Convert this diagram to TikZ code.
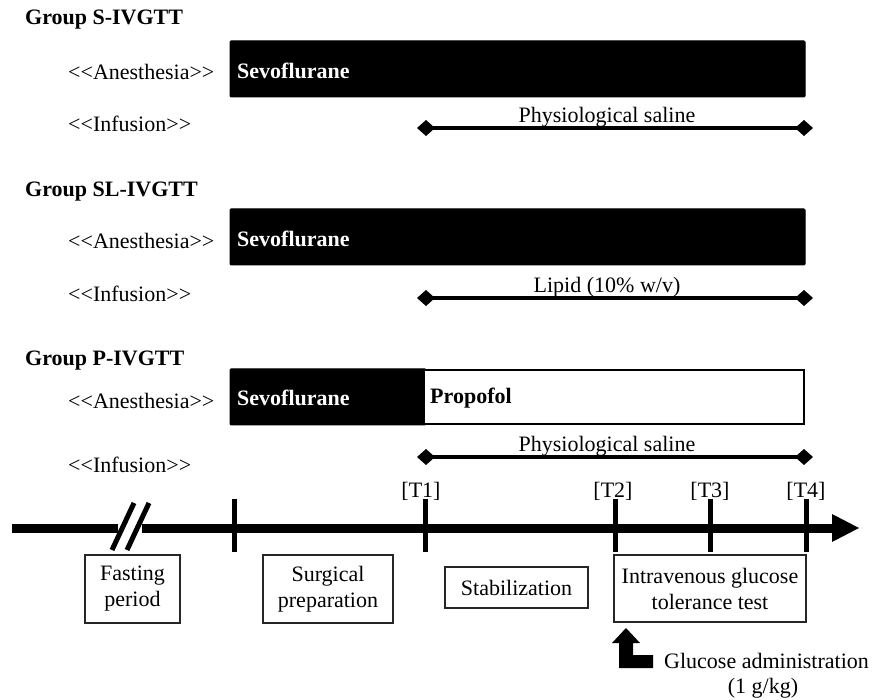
\documentclass[tikz,border=0pt]{standalone}
\usepackage{fontspec}
\setmainfont{Liberation Serif}[Ligatures=NoCommon]
\usetikzlibrary{arrows.meta}
\newcommand{\ltlt}{{<}{<}}
\newcommand{\gtgt}{{>}{>}}
\begin{document}
\begin{tikzpicture}[x=1pt,y=-1pt,
  every node/.style={font=\fontsize{22}{26}\selectfont, inner sep=0pt},
  grp/.style={anchor=west, font=\fontsize{22}{26}\selectfont\bfseries},
  lbl/.style={anchor=west},
  drug/.style={anchor=west, font=\fontsize{22}{26}\selectfont\bfseries},
  bar/.style={fill=black, draw=black, line width=1pt, rounded corners=1pt},
  inf/.style={line width=4pt, {Diamond[length=18pt,width=16pt]}-{Diamond[length=18pt,width=16pt]}},
  axis/.style={line width=9pt},
  tick/.style={line width=5pt},
  phase/.style={draw=black!85, line width=1.6pt, align=center},
  tlab/.style={anchor=south}
]
\useasboundingbox (0,0) rectangle (873,700);

% ---------- Group S ----------
\node[grp] (gS) at (25,20) {Group S-IVGTT};
\node[lbl] (aS) at (68,72) {\ltlt Anesthesia\gtgt};
\node[lbl] (iS) at (68,124) {\ltlt Infusion\gtgt};
\draw[bar] (230,41) rectangle (805,97);
\node[drug, text=white] (sS) at (237,71) {Sevoflurane};
\coordinate (s1) at (417,128);
\coordinate (e1) at (813,128);
\draw[inf] (s1) -- (e1);
\node[anchor=base] (pS) at (607,123) {Physiological saline};

% ---------- Group SL ----------
\node[grp] (gSL) at (25,192) {Group SL-IVGTT};
\node[lbl] (aSL) at (68,241) {\ltlt Anesthesia\gtgt};
\node[lbl] (iSL) at (68,294) {\ltlt Infusion\gtgt};
\draw[bar] (230,209) rectangle (805,265);
\node[drug, text=white] (sSL) at (237,239) {Sevoflurane};
\coordinate (s2) at (417,298);
\coordinate (e2) at (813,298);
\draw[inf] (s2) -- (e2);
\node[anchor=base] (pSL) at (607,293) {Lipid (10\% w/v)};

% ---------- Group P ----------
\node[grp] (gP) at (25,361) {Group P-IVGTT};
\node[lbl] (aP) at (68,401) {\ltlt Anesthesia\gtgt};
\node[lbl] (iP) at (68,465) {\ltlt Infusion\gtgt};
\draw[bar] (230,369) rectangle (426,425);
\draw[draw=black, line width=2.5pt, fill=white] (424,370) rectangle (804,424);
\node[drug, text=white] (sP) at (237,398) {Sevoflurane};
\node[drug] (pp) at (430,398) {Propofol};
\coordinate (s3) at (417,457);
\coordinate (e3) at (813,457);
\draw[inf] (s3) -- (e3);
\node[anchor=base] (pP) at (607,452) {Physiological saline};

% ---------- Timeline ----------
\coordinate (a0) at (12,528);
\coordinate (a1) at (118,528);
\coordinate (a2) at (142,528);
\coordinate (a3) at (835,528);
\draw[axis] (a0) -- (a1);
\draw[axis] (a2) -- (a3);
\fill (832,514) -- (859,528) -- (832,542) -- cycle;
% break marks
\draw[line width=5pt] (112,550) -- (134,503);
\draw[line width=5pt] (127,550) -- (149,503);
% ticks
\foreach \n/\x in {t0/234,t1/425,t2/615,t3/710,t4/806}{
  \coordinate (\n top) at (\x,499);
  \coordinate (\n bot) at (\x,552);
  \draw[tick] (\n top) -- (\n bot);
}
\node[tlab] (T1) at (421,501) {[T1]};
\node[tlab] (T2) at (613,501) {[T2]};
\node[tlab] (T3) at (710,501) {[T3]};
\node[tlab] (T4) at (806,501) {[T4]};

% phase boxes
\node[phase, minimum width=95pt, minimum height=68pt] (fast) at (132.5,589) {Fasting\\period};
\node[phase, minimum width=130pt, minimum height=68pt] (surg) at (328,589) {Surgical\\preparation};
\node[phase, minimum width=143pt, minimum height=41pt] (stab) at (516.5,587.5) {Stabilization};
\node[phase, minimum width=192pt, minimum height=67pt] (ivgtt) at (710,588.5) {Intravenous glucose\\tolerance test};

% glucose administration arrow
\fill (626,628) -- (640,643) -- (633,643) -- (633,655) -- (653,655) -- (653,668) -- (619,668) -- (619,643) -- (612,643) -- cycle;
\node[anchor=west] (glu) at (664,661) {Glucose administration};
\node (dose) at (763,688) {(1 g/kg)};
\end{tikzpicture}
\end{document}
